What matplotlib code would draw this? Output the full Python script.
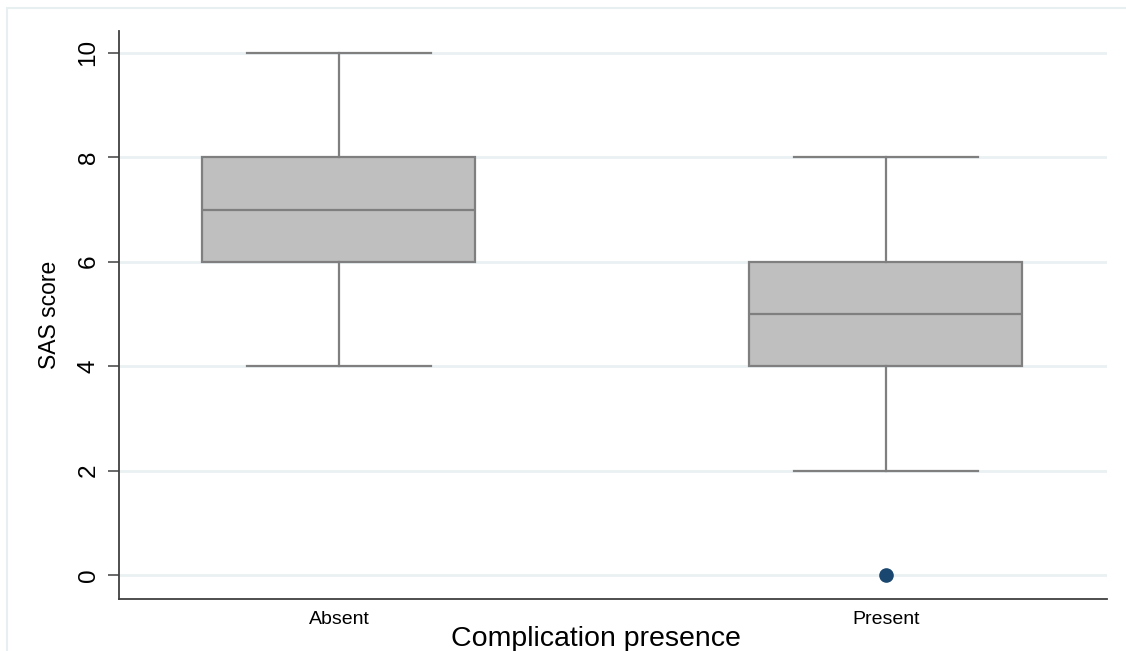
import matplotlib
matplotlib.use("Agg")
import matplotlib.pyplot as plt
from matplotlib.patches import Rectangle

plt.rcParams['font.family'] = ['Liberation Sans', 'DejaVu Sans']

categories = ["Absent", "Present"]
whislo = [4, 2]
q1 = [6, 4]
med = [7, 5]
q3 = [8, 6]
whishi = [10, 8]
fliers = [[], [0]]
yticks = [0, 2, 4, 6, 8, 10]

W, H = 1126, 651
fig = plt.figure(figsize=(W / 100, H / 100), dpi=100)
fig.patch.set_facecolor("white")

# light outer frame (graph region)
fig.patches.append(Rectangle((7 / W, -0.05), 1.2, (H - 8) / H + 0.05,
                             transform=fig.transFigure, fill=False,
                             edgecolor="#e8eff1", linewidth=1.5, zorder=0))

ax = fig.add_axes([119 / W, 1 - 599 / H, (1107 - 119) / W, (599 - 31) / H])

stats = []
for i, c in enumerate(categories):
    stats.append(dict(label=c, whislo=whislo[i], q1=q1[i], med=med[i],
                      q3=q3[i], whishi=whishi[i], fliers=fliers[i]))

edge = "#7f7f7f"
ax.bxp(stats, positions=[1, 2], widths=0.499, capwidths=0.336,
       patch_artist=True, manage_ticks=False,
       boxprops=dict(facecolor="#bfbfbf", edgecolor=edge, linewidth=1.6),
       medianprops=dict(color=edge, linewidth=1.6),
       whiskerprops=dict(color=edge, linewidth=1.6),
       capprops=dict(color=edge, linewidth=1.6),
       flierprops=dict(marker="o", markerfacecolor="#1a476f",
                       markeredgecolor="#1a476f", markersize=9.5),
       zorder=3)

ax.set_xlim(0.598, 2.404)
ax.set_ylim(-0.46, 10.42)
ax.set_xticks([1, 2])
ax.set_xticklabels(categories, fontsize=14)
ax.set_yticks(yticks)
ax.set_yticklabels([str(v) for v in yticks], fontsize=17.5, rotation=90,
                   va="center")

ax.yaxis.grid(True, color="#eaf1f3", linewidth=2, zorder=0)
ax.set_axisbelow(True)

for s in ["top", "right"]:
    ax.spines[s].set_visible(False)
for s in ["left", "bottom"]:
    ax.spines[s].set_color("#404040")
    ax.spines[s].set_linewidth(1.3)

ax.tick_params(axis="y", length=8, width=1.1, color="#404040", pad=6)
ax.tick_params(axis="x", length=0, pad=9)

ax.set_ylabel("SAS score", fontsize=16.5, labelpad=12)
ax.set_xlabel("Complication presence", fontsize=20.5, labelpad=-3.5)
ax.xaxis.set_label_coords(0.483, -0.048)
ax.xaxis.label.set_va("top")

fig.savefig("out.png", dpi=100, facecolor="white")
